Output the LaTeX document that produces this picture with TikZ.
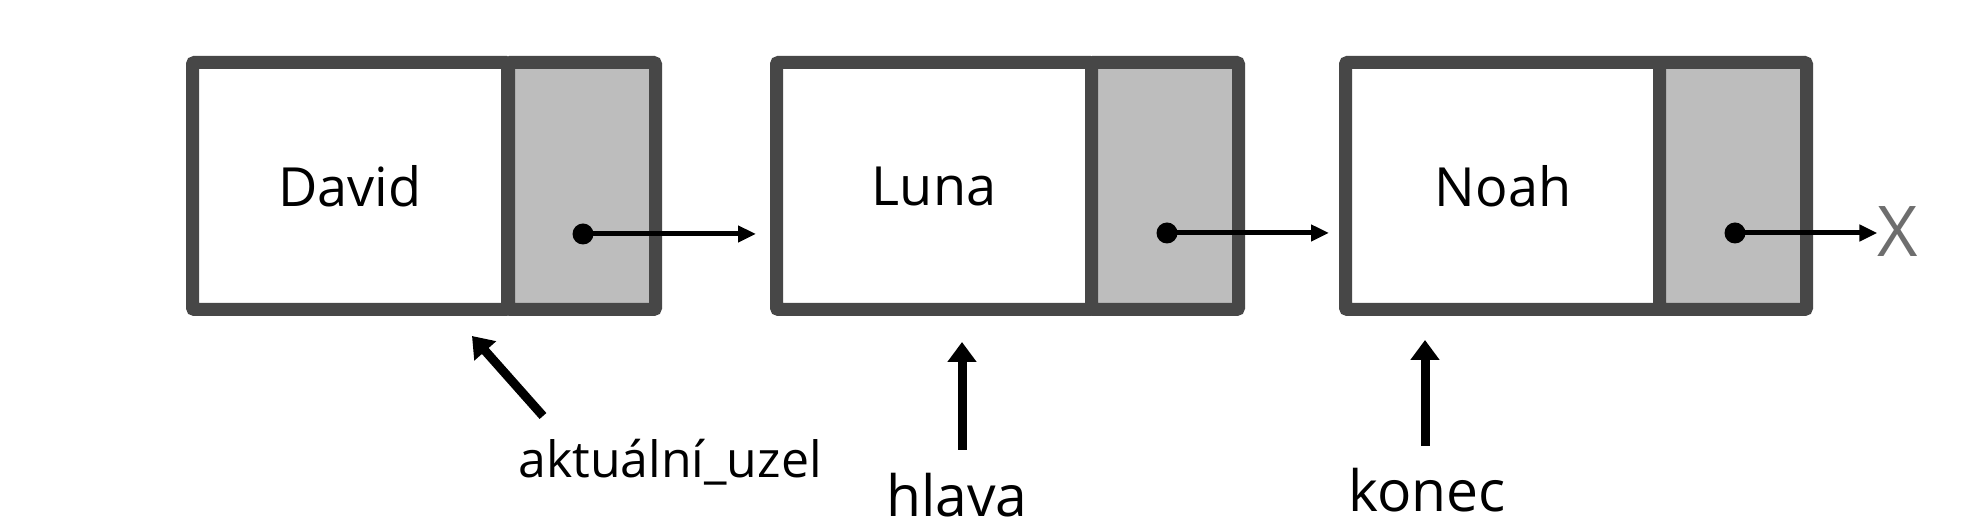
\documentclass[tikz,border=0pt]{standalone}
\usepackage{fontspec}
\setmainfont{Open Sans}
\usepackage{xcolor}
\usepackage{tikz}
\usetikzlibrary{arrows.meta}

\definecolor{boxline}{HTML}{474747}
\definecolor{ptrfill}{HTML}{BDBDBD}
\definecolor{nilgrey}{HTML}{6E6E6E}

\begin{document}
\begin{tikzpicture}[x=0.5pt,y=-0.5pt]
				\fill[white] (0,0) rectangle (1988,528);
				\useasboundingbox (0,0) rectangle (1988,528);

				\begin{scope}[every node/.style={rectangle,draw=boxline,line width=6.5pt,
						minimum height=123.5pt,inner sep=0pt,rounded corners=1pt}]
					\node [fill=white,minimum width=157.5pt,font=\fontsize{27}{30}\selectfont] (D) at (350,186) {David};
					\node [fill=ptrfill,minimum width=73.5pt] (Dp) at (582,186) {};
					\node [fill=white,minimum width=157.5pt,font=\fontsize{27}{30}\selectfont] (L) at (934,186) {Luna};
					\node [fill=ptrfill,minimum width=73.5pt] (Lp) at (1165,186) {};
					\node [fill=white,minimum width=157.5pt,font=\fontsize{27}{30}\selectfont] (N) at (1503,186) {Noah};
					\node [fill=ptrfill,minimum width=73.5pt] (Np) at (1733,186) {};
				\end{scope}

				\begin{scope}[every node/.style={circle,fill=black,inner sep=0pt,minimum size=10.5pt}]
					\node (d1) at (583,234) {};
					\node (d2) at (1167,233) {};
					\node (d3) at (1735,233) {};
				\end{scope}

				\node [text=nilgrey,inner sep=0pt,font=\fontsize{35}{36}\selectfont] (nil) at (1898,232) {X};

				\begin{scope}[>={Triangle[length=9pt,width=8pt]},
					every edge/.style={draw=black,line width=2.5pt}]
					\path [->] (d1.center) edge [shorten >=7pt] (d1 -| L.west);
					\path [->] (d2.center) edge [shorten >=5pt] (d2 -| N.west);
					\path [->] (d3.center) edge (d3 -| nil.west);
				\end{scope}

				\begin{scope}[every node/.style={anchor=base,inner sep=0pt}]
					\node [font=\fontsize{25}{28}\selectfont] (cur) at (670,478) {aktuální\_uzel};
					\node [font=\fontsize{28.5}{31}\selectfont] (head) at (957,517) {hlava};
					\node [font=\fontsize{28.5}{31}\selectfont] (tail) at (1427,512) {konec};
				\end{scope}

				\coordinate (curfrom) at (543,416);
				\coordinate (curto) at (472,336);
				\coordinate (headfrom) at (962,450);
				\coordinate (headto) at (962,342);
				\coordinate (tailfrom) at (1425,446);
				\coordinate (tailto) at (1425,340);

				\begin{scope}[>={Triangle[length=10pt,width=14pt]},
					every edge/.style={draw=black,line width=4.5pt}]
					\path [->] (curfrom) edge (curto);%cur%
					\path [->] (headfrom) edge (headto);%head%
					\path [->] (tailfrom) edge (tailto);%tail%
				\end{scope}
\end{tikzpicture}
\end{document}
